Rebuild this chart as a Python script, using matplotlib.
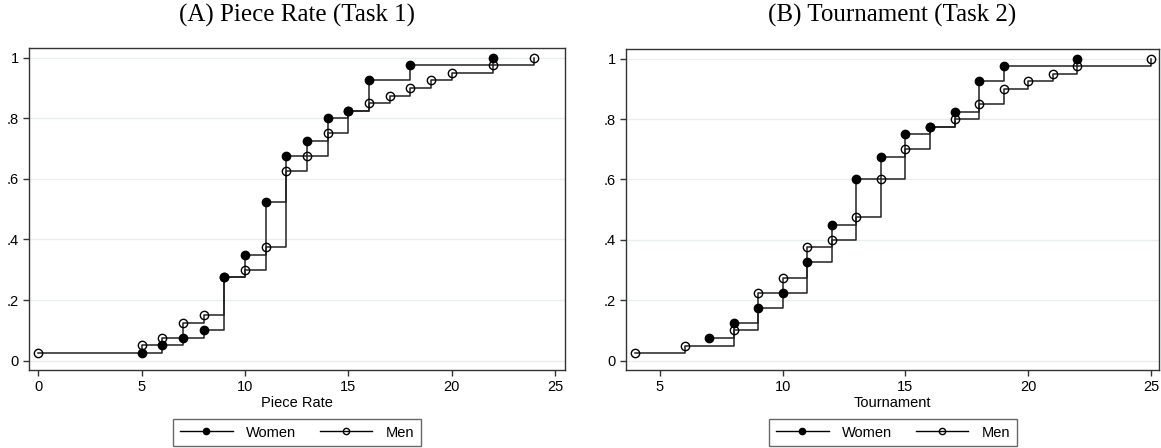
import numpy as np
import matplotlib
matplotlib.use('Agg')
import matplotlib.pyplot as plt
from matplotlib.lines import Line2D

# panel A: piece rate (task 1)
pr_women_x = [5, 6, 7, 8, 9, 10, 11, 12, 13, 14, 15, 16, 18, 22]
pr_women_y = [.025, .05, .075, .1, .275, .35, .525, .675, .725, .8, .825, .925, .975, 1.0]
pr_men_x = [0, 5, 6, 7, 8, 9, 10, 11, 12, 13, 14, 15, 16, 17, 18, 19, 20, 22, 24]
pr_men_y = [.025, .05, .075, .125, .15, .275, .3, .375, .625, .675, .75, .825, .85, .875, .9, .925, .95, .975, 1.0]

# panel B: tournament (task 2)
tr_women_x = [7, 8, 9, 10, 11, 12, 13, 14, 15, 16, 17, 18, 19, 22]
tr_women_y = [.075, .125, .175, .225, .325, .45, .6, .675, .75, .775, .825, .925, .975, 1.0]
tr_men_x = [4, 6, 8, 9, 10, 11, 12, 13, 14, 15, 16, 17, 18, 19, 20, 21, 22, 25]
tr_men_y = [.025, .05, .1, .225, .275, .375, .4, .475, .6, .7, .775, .8, .85, .9, .925, .95, .975, 1.0]

yticks = [0, .2, .4, .6, .8, 1]
ytick_labels = ['0', '.2', '.4', '.6', '.8', '1']

W, H = 1161, 448
SANS = ['Liberation Sans', 'DejaVu Sans']
SERIF = ['Liberation Serif', 'DejaVu Serif']
plt.rcParams['font.family'] = SANS

fig = plt.figure(figsize=(W / 100, H / 100), dpi=100)


def px_axes(l, t, r, b):
  return fig.add_axes([l / W, 1 - b / H, (r - l) / W, (b - t) / H])


def panel(ax, wx, wy, mx, my, xlim, xticks, xlabel, title, cx, leg_box):
  ax.set_xlim(*xlim)
  ax.set_ylim(-0.031, 1.032)
  for yv in yticks:
    ax.axhline(yv, color='#e6eef0', lw=1.0, zorder=0)
  ax.step(mx, my, where='post', color='#222222', lw=1.1, zorder=2)
  ax.step(wx, wy, where='post', color='#222222', lw=1.1, zorder=2)
  ax.plot(mx, my, ls='none', marker='o', ms=6, mfc='none', mec='black', mew=1.0, zorder=3)
  ax.plot(wx, wy, ls='none', marker='o', ms=6, mfc='black', mec='black', zorder=4)
  ax.set_xticks(xticks)
  ax.set_yticks(yticks)
  ax.set_yticklabels(ytick_labels)
  ax.tick_params(direction='out', length=4, width=1, labelsize=10.5, color='#333333')
  for s in ax.spines.values():
    s.set_color('#333333')
    s.set_linewidth(1.0)
  ax.set_xlabel(xlabel, fontsize=10.5, labelpad=1)
  fig.text(cx / W, 1 - 15 / H, title, ha='center', va='center', fontsize=18, family=SERIF)
  handles = [
    Line2D([], [], color='black', lw=1, marker='o', ms=4.5, mfc='black', mec='black'),
    Line2D([], [], color='black', lw=1, marker='o', ms=4.5, mfc='none', mec='black'),
  ]
  l, t, r, b = leg_box
  lax = px_axes(l, t, r, b)
  lax.axis('off')
  leg = lax.legend(handles, ['Women', 'Men'], loc='center', ncol=2, frameon=True,
                   fancybox=False, edgecolor='#444444', fontsize=10.5,
                   handlelength=3.6, columnspacing=1.65, borderpad=0.45, handletextpad=0.9)
  leg.get_frame().set_linewidth(1.0)


ax1 = px_axes(29, 48, 565, 370)
panel(ax1, pr_women_x, pr_women_y, pr_men_x, pr_men_y, (-0.45, 25.48), [0, 5, 10, 15, 20, 25],
      'Piece Rate', '(A) Piece Rate (Task 1)', 297, (172, 418, 422, 447))

ax2 = px_axes(626, 49, 1159, 370)
panel(ax2, tr_women_x, tr_women_y, tr_men_x, tr_men_y, (3.615, 25.33), [5, 10, 15, 20, 25],
      'Tournament', '(B) Tournament (Task 2)', 892, (768, 418, 1018, 447))

fig.savefig('out.png', dpi=100)
